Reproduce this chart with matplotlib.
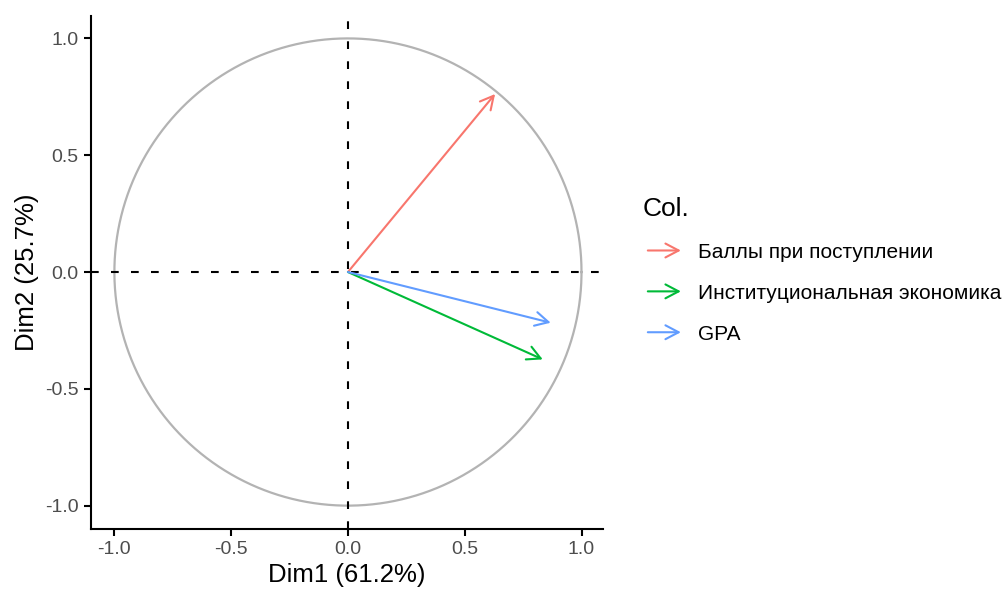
import numpy as np
import matplotlib
matplotlib.use("Agg")
import matplotlib.pyplot as plt
from matplotlib.patches import FancyArrowPatch
from matplotlib.legend_handler import HandlerBase
from matplotlib.lines import Line2D

plt.rcParams["font.family"] = ["Liberation Sans", "DejaVu Sans"]

# ---- data: PCA variable coordinates ----
variables = ["Баллы при поступлении", "Институциональная экономика", "GPA"]
dim1 = [0.630, 0.834, 0.868]
dim2 = [0.762, -0.374, -0.217]
colors = ["#F8766D", "#00BA38", "#619CFF"]
ticks = [-1.0, -0.5, 0.0, 0.5, 1.0]
tick_labels = ["-1.0", "-0.5", "0.0", "0.5", "1.0"]
dim1_pct, dim2_pct = 61.2, 25.7

ARROW = "->,head_length=0.95,head_width=0.5"
DASH = (0, (3.7, 5.9))


class ArrowHandler(HandlerBase):
    # legend key: short arrow, nudged right of the title edge
    def create_artists(self, legend, orig, xd, yd, w, h, fontsize, trans):
        y = h / 2 - yd
        x0 = -xd + 3.6
        a = FancyArrowPatch((x0, y), (x0 + 23.8, y), arrowstyle=ARROW,
                            mutation_scale=10, color=orig.get_color(),
                            lw=1.5, shrinkA=0, shrinkB=0, transform=trans)
        return [a]


fig = plt.figure(figsize=(10.07, 5.90), dpi=100)
ax = fig.add_axes([0.0904, 0.1034, 0.5084, 0.8695])

# unit circle
t = np.linspace(0, 2 * np.pi, 400)
ax.plot(np.cos(t), np.sin(t), color="#B3B3B3", lw=1.6, zorder=1)

# reference lines
ax.axhline(0, color="black", ls=DASH, lw=1.5, zorder=2)
ax.axvline(0, color="black", ls=DASH, lw=1.5, zorder=2)

handles = []
for name, x, y, c in zip(variables, dim1, dim2, colors):
    ax.add_patch(FancyArrowPatch((0, 0), (x, y), arrowstyle=ARROW,
                                 mutation_scale=10, color=c, lw=1.5,
                                 shrinkA=0, shrinkB=0, zorder=3))
    handles.append(Line2D([], [], color=c, label=name))

ax.set_xlim(-1.10, 1.092)
ax.set_ylim(-1.10, 1.096)
ax.set_xticks(ticks)
ax.set_xticklabels(tick_labels)
ax.set_yticks(ticks)
ax.set_yticklabels(tick_labels)
for s in ["top", "right"]:
    ax.spines[s].set_visible(False)
for s in ["left", "bottom"]:
    ax.spines[s].set_linewidth(1.5)
ax.tick_params(length=5, width=1.5, color="black", labelcolor="#4D4D4D",
               labelsize=14, pad=4)
ax.set_xlabel(f"Dim1 ({dim1_pct}%)", fontsize=18.5, labelpad=3)
ax.set_ylabel(f"Dim2 ({dim2_pct}%)", fontsize=18.5, labelpad=4)

leg = fig.legend(handles=handles, handler_map={Line2D: ArrowHandler()},
                 title="Col.", loc="center left", bbox_to_anchor=(0.628, 0.542),
                 frameon=False, fontsize=15, title_fontsize=19,
                 handlelength=1.6, handletextpad=1.04, labelspacing=1.05,
                 borderpad=0)
leg._legend_box.align = "left"

fig.savefig("out.png", dpi=100)
